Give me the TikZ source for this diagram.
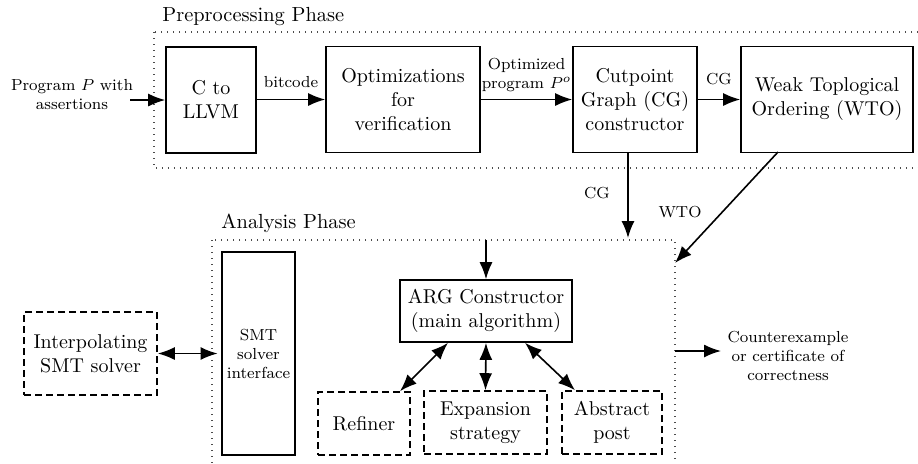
\documentclass[tikz,border=0pt]{standalone}
\usetikzlibrary{arrows.meta}
\begin{document}
\begin{tikzpicture}[x=0.5pt,y=-0.5pt,
  box/.style={draw, thick, align=center, inner sep=0pt},
  dbox/.style={box, dash pattern=on 3.5pt off 2pt},
  phase/.style={draw=black!70, line width=0.6pt, dash pattern=on 0.7pt off 2.3pt},
  tip/.tip={Latex[length=8.5pt,width=6.5pt]},
  arr/.style={-tip, thick},
  darr/.style={tip-tip, thick},
  small/.style={font=\footnotesize, align=center, inner sep=1pt}]
\useasboundingbox (0,0) rectangle (918,463);
\begin{scope}
\clip (0,0) rectangle (918,463);
% phases
\draw[phase] (154,32) rectangle (940,168);
\draw[phase] (212,240) rectangle (675,490);
\end{scope}
\node[anchor=base west, inner sep=0pt, font=\fontsize{10.2}{12}\selectfont] (lpre) at (162,21) {Preprocessing Phase};
\node[anchor=base west, inner sep=0pt, font=\fontsize{10.2}{12}\selectfont] (lana) at (221,228) {Analysis Phase};

% top row
\node[box, minimum width=45pt, minimum height=53pt] (c2l) at (211,100) {C to\\LLVM};
\node[box, minimum width=77pt, minimum height=53pt] (opt) at (403,99.5) {Optimizations\\for\\verification};
\node[box, minimum width=62pt, minimum height=53pt] (cut) at (635,99.5) {Cutpoint\\Graph (CG)\\constructor};
\node[box, minimum width=86pt, minimum height=53pt] (wto) at (827,99.5) {Weak Toplogical\\Ordering (WTO)};

\node[small] (prog) at (72,95) {Program $P$ with\\assertions};
\coordinate (in) at (130,100);
\draw[arr] (in) -- (c2l.west |- in);
\draw[arr] (c2l.east |- opt) -- node[small, above=4.5pt] (lbit) {bitcode} (opt.west);
\draw[arr] (opt.east) -- node[small, above=3.5pt, inner sep=0pt] (lopt) {Optimized\\program $P^o$} (cut.west);
\draw[arr] (cut.east) -- node[small, above=6pt] (lcg) {CG} (wto.west);

% analysis
\node[dbox, minimum width=66.5pt, minimum height=41.5pt] (itp) at (90.5,353.5) {Interpolating\\SMT solver};
\node[box, minimum width=36.5pt, minimum height=101.5pt, font=\footnotesize] (smt) at (258.5,353.5) {SMT\\solver\\interface};
\node[box, minimum width=86pt, minimum height=31pt] (arg) at (486,311) {ARG Constructor\\(main algorithm)};
\node[dbox, minimum width=46pt, minimum height=31.5pt] (ref) at (364,423.5) {Refiner};
\node[dbox, minimum width=61.5pt, minimum height=31.5pt] (exp) at (485.5,422.5) {Expansion\\strategy};
\node[dbox, minimum width=50pt, minimum height=31.5pt] (abs) at (612,422.5) {Abstract\\post};

\coordinate (cgend) at (628,238);
\draw[arr] (cut.south -| cgend) -- (cgend);
\node[small] (lcg2) at (597,193) {CG};
\coordinate (wtostart) at (778,152);
\coordinate (wtoend) at (675,263);
\draw[arr] (wtostart) -- (wtoend);
\node[small] (lwto) at (680,212) {WTO};

\coordinate (argin) at (486,240);
\draw[arr] (argin) -- (arg.north);
\draw[darr] (itp.east) -- ([xshift=-1.8pt]smt.west);
\draw[darr] ([xshift=-19pt]arg.south) -- ([xshift=18pt]ref.north);
\draw[darr] (arg.south) -- (exp.north);
\draw[darr] ([xshift=19.5pt]arg.south) -- ([xshift=-18.5pt]abs.north);

\coordinate (outs) at (675,351);
\coordinate (oute) at (721,351);
\draw[arr] (outs) -- (oute);
\node[small] (lout) at (788,356) {Counterexample\\or certificate of\\correctness};
\end{tikzpicture}
\end{document}
